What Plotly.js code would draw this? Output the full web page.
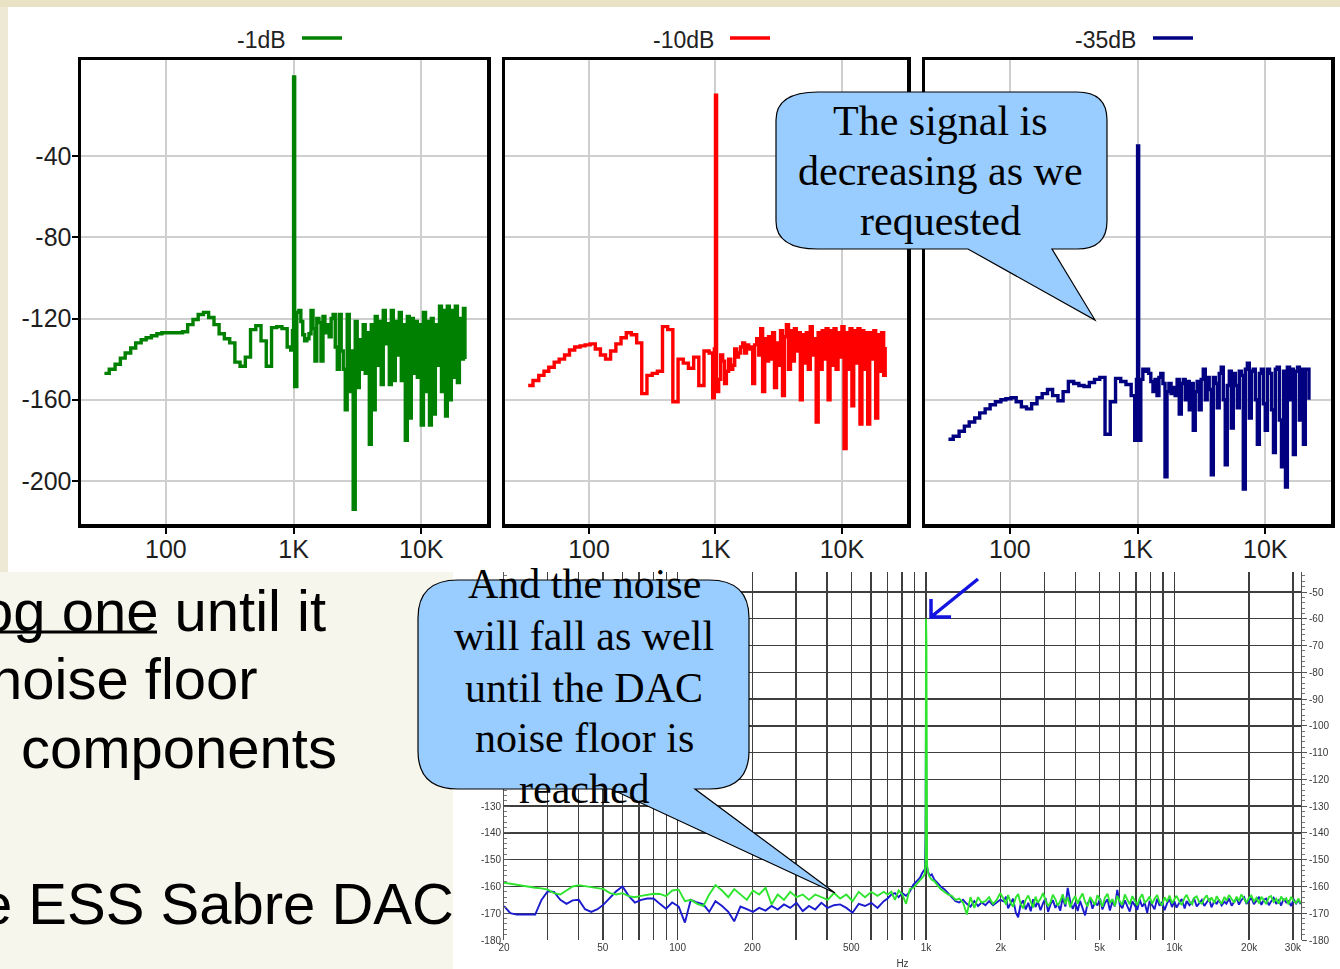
<!DOCTYPE html>
<html>
<head>
<meta charset="utf-8">
<script src="https://cdn.plot.ly/plotly-3.0.1.min.js"></script>
<style>
  html, body { margin: 0; padding: 0; background: #F7F6EC; }
  #stage { position: relative; width: 1340px; height: 969px; overflow: hidden; }
  #dac, #fft { position: absolute; left: 0; top: 0; width: 1340px; height: 969px; }
  #dac { filter: blur(0.5px); }
</style>
</head>
<body>
<div id="stage"><div id="dac"></div><div id="fft"></div></div>
<script>
// ---------- FFT panels: output level -1 dB, -10 dB, -35 dB ----------
const PANEL_NAMES = ['-1dB', '-10dB', '-35dB'];
const PANEL_COLORS = ['#008000', '#FF0000', '#000080'];

const FREQ_TOP = [
  33, 36, 40, 44, 48, 53, 58, 64, 70, 77,
  85, 93, 102, 112, 123, 135, 148, 163, 179, 197,
  216, 238, 261, 287, 316, 347, 381, 419, 460, 506,
  556, 611, 672, 738, 811, 891, 950, 980, 1000,
  1020, 1060, 1100, 1140, 1180, 1220, 1270, 1320, 1370, 1420,
  1470, 1520, 1580, 1640, 1700, 1760, 1830, 1900, 1970, 2040,
  2120, 2200, 2280, 2360, 2450, 2540, 2630, 2730, 2830, 2930,
  3040, 3150, 3270, 3390, 3510, 3640, 3780, 3920, 4060, 4210,
  4360, 4520, 4690, 4860, 5040, 5230, 5420, 5620, 5830, 6040,
  6260, 6490, 6730, 6980, 7240, 7500, 7780, 8060, 8360, 8670,
  8990, 9320, 9660, 10000, 10400, 10800, 11200, 11600, 12000, 12400,
  12900, 13400, 13900, 14400, 14900, 15500, 16000, 16600, 17200, 17900,
  18500, 19200, 19900, 20600, 21400, 22000
];

const LEVEL_1DB = [
  -147, -145, -142.5, -139.5, -137, -134.5, -132, -130.5, -129.5, -128.5,
  -127.5, -127, -127, -127, -127, -126.5, -123, -120.5, -118, -117,
  -119.5, -123, -127.5, -130, -132, -141.5, -143.5, -139, -125.5, -123.5,
  -131, -143.5, -124.5, -124, -125, -134, -135.5, -126, -1,
  -153.5, -117, -116, -121.5, -128, -131, -130, -127.5, -116, -125,
  -141, -120, -122, -141, -119, -127, -123, -129, -120, -118,
  -134, -145, -118, -136, -145, -165, -118, -156, -136, -214,
  -121.5, -154, -130.5, -145, -123, -147, -127, -182, -123, -165,
  -119, -143, -121.5, -152.5, -116, -132.5, -122.5, -152.5, -116, -150.5,
  -121.5, -138, -117, -150.5, -123, -180, -119, -169, -120, -147,
  -121.5, -149, -123, -172.5, -117, -156, -121.5, -172.5, -120, -167,
  -123, -143, -114, -156, -116, -168, -114, -160, -116, -149,
  -114, -151.5, -120, -140, -115, -140
];

const LEVEL_10DB = [
  -153, -150.5, -148, -146, -144, -141.5, -140, -138, -135.5, -134,
  -133.5, -133, -132.5, -135, -138, -140, -136, -132.5, -129.5, -127,
  -128, -132, -157, -148, -147, -146, -124, -125.5, -161, -140,
  -142, -144.5, -139, -153, -136, -137, -159, -135, -10,
  -156, -150, -138, -141, -152, -146, -140, -145, -143, -135,
  -139, -137, -134, -132, -137, -133, -135, -134, -152, -133,
  -130, -138, -125, -156, -130, -141, -129, -140, -127, -154,
  -132, -143, -126, -158, -129, -123, -145, -126, -141, -125,
  -136, -127, -160, -128, -142, -127, -145, -124, -138, -130,
  -171, -127, -145, -126, -140, -125, -160, -126, -143, -125,
  -145, -127, -139, -124, -184, -127, -145, -125, -163, -126,
  -142, -125, -172, -126, -145, -127, -172, -127, -140, -126,
  -169, -128, -146, -127, -148, -134
];

const LEVEL_35DB = [
  -179.5, -178, -175.5, -173, -171, -169, -166.5, -164.5, -162.5, -161,
  -160, -159.5, -159, -161, -163.5, -164.5, -162, -159, -157, -155,
  -158, -160.5, -156, -151, -152, -153, -153.5, -151.5, -150, -149,
  -177, -161, -149.5, -151, -152.5, -158, -180, -150, -35,
  -180, -150, -145, -146, -145, -147, -151, -156, -150, -158,
  -149, -147, -152, -198, -156, -152, -157, -154, -158, -150,
  -167, -152, -150, -160, -151, -165, -152, -175, -156, -151,
  -165, -150, -145, -160, -149, -155, -197, -149, -152, -164,
  -147, -144, -160, -192, -153, -146, -174, -147, -153, -164,
  -146, -148, -204, -145, -142, -169, -146, -145, -160, -182,
  -147, -145, -162, -175, -145, -147, -165, -186, -145, -144,
  -170, -193, -146, -203, -144, -160, -145, -187, -146, -144,
  -170, -145, -182, -145, -145, -160
];

const TOP_TICK_HZ = [100, 1000, 10000];
const TOP_TICK_HZ_TEXT = ['100', '1K', '10K'];
const TOP_TICK_DB = [-200, -160, -120, -80, -40];
const TOP_TICK_DB_TEXT = ['-200', '-160', '-120', '-80', '-40'];

// ---------- DAC noise floor spectrum (20 Hz .. 32 kHz) ----------
const FREQ_DAC = [
  20, 21.2, 22.5, 23.8, 25.2, 26.7, 28.3, 30, 31.8, 33.7,
  35.7, 37.8, 40, 42.4, 44.9, 47.6, 50.4, 53.4, 56.6, 60,
  63.5, 67.3, 71.3, 75.5, 80, 84.8, 89.8, 95.1, 101, 107,
  113, 120, 127, 134, 142, 151, 160, 169, 179, 190,
  201, 213, 226, 239, 253, 268, 284, 301, 319, 338,
  358, 379, 402, 426, 451, 478, 506, 536, 568, 602,
  638, 676, 700, 725, 750, 776, 803, 831, 860, 890,
  920, 945, 965, 980, 990, 996, 1000, 1004, 1010, 1020,
  1035, 1055, 1080, 1110, 1145, 1185, 1225, 1270, 1315, 1360,
  1410, 1460, 1510, 1565, 1620, 1675, 1735, 1795, 1860, 1925,
  1990,
  2050, 2100, 2140, 2190, 2240, 2300, 2350, 2400, 2460, 2520,
  2580, 2640, 2700, 2760, 2820, 2890, 2960, 3030, 3100, 3170,
  3240, 3320, 3390, 3470, 3550, 3640, 3720, 3810, 3900, 3990,
  4080, 4170, 4270, 4370, 4470, 4580, 4680, 4790, 4900, 5020,
  5130, 5250, 5380, 5500, 5630, 5760, 5890, 6030, 6170, 6320,
  6460, 6610, 6770, 6920, 7090, 7250, 7420, 7590, 7770, 7950,
  8130, 8320, 8520, 8720, 8920, 9130, 9340, 9560, 9780, 10000,
  10200, 10500, 10700, 11000, 11200, 11500, 11800, 12000, 12300, 12600,
  12900, 13200, 13500, 13800, 14100, 14500, 14800, 15100, 15500, 15900,
  16200, 16600, 17000, 17400, 17800, 18200, 18600, 19100, 19500, 20000,
  20400, 20900, 21400, 21900, 22400, 22900, 23400, 24000, 24500, 25100,
  25700, 26300, 26900, 27500, 28200, 28800, 29500, 30200, 30900, 31600,
  32200
];

const DAC_GREEN = [
  -158.6, -159, -159.3, -159.8, -160.3, -160.5, -160.7, -161.2, -162.5, -163,
  -161.5, -160, -159.5, -159.8, -160.2, -160.6, -161, -162.5, -163, -162.5,
  -163.6, -164, -163.5, -163, -162.7, -162.8, -163.6, -161.5, -161.2, -165.5,
  -165, -166.5, -167.3, -163, -159.5, -161.5, -164, -161, -163, -165,
  -161.5, -163, -160.5, -166.7, -163, -165, -162, -164, -163, -165,
  -163, -164, -165, -162.5, -164.5, -163, -165.5, -162, -164, -162,
  -163.5, -162, -163, -162, -165, -161.5, -163, -166.5, -161, -160.5,
  -159, -158, -157, -156, -155, -150, -60, -68, -152, -155,
  -156.5, -157.5, -158, -159.5, -161, -162, -163, -163.5, -165, -164.5,
  -166, -170.5, -164, -168, -164, -166, -165.5, -164, -166.5, -165,
  -162.5,
  -164.5, -166.8, -163.2, -165.9, -167.6, -164.1, -162.8, -166.3, -168.2, -164.9,
  -163.4, -165.7, -167.9, -163.8, -166.1, -164.6, -162.5, -165.2, -167.4, -166.0,
  -163.1, -164.8, -167.2, -165.5, -162.9, -166.6, -164.0, -167.8, -165.1, -163.6,
  -166.4, -164.3, -162.6, -165.8, -167.5, -163.9, -165.4, -166.9, -163.3, -165.0,
  -167.6, -164.2, -162.7, -166.2, -164.7, -167.3, -163.5, -165.6, -166.8, -163.0,
  -164.9, -166.7, -163.6, -165.3, -167.0, -164.4, -162.9, -166.0, -165.2, -163.8,
  -166.5, -164.6, -163.2, -165.9, -167.1, -164.0, -165.7, -163.4, -166.3, -164.8,
  -163.5, -165.8, -166.9, -164.2, -163.1, -165.6, -166.6, -164.3, -163.7, -165.9,
  -166.4, -164.5, -163.3, -165.7, -164.1, -166.2, -163.6, -165.0, -166.5, -163.9,
  -165.3, -163.2, -164.9, -166.1, -163.8, -165.5, -163.0, -164.7, -166.0, -164.2,
  -163.4, -165.6, -164.3, -166.3, -163.9, -165.1, -166.6, -164.0, -163.6, -165.8,
  -164.6, -166.4, -163.8, -165.2, -164.4, -166.7, -163.9, -165.4, -166.2, -164.5,
  -166.3
];

const DAC_BLUE = [
  -167.3, -170, -170.5, -170.5, -170.5, -170.5, -165, -161.8, -162, -165,
  -166.5, -165.2, -165, -168.5, -169.5, -168.5, -166.7, -164.2, -161.8, -160,
  -163.5, -166, -165, -164.5, -164.5, -166.5, -168.3, -166, -167.5, -173.5,
  -165, -166, -166.7, -169.5, -165.5, -167.3, -169.5, -173, -167.5, -168.5,
  -169.5, -168, -169, -167.3, -168.6, -166.7, -168, -166.1, -169.2, -167.3,
  -168.6, -166.1, -168, -167, -166.7, -168, -169.8, -166.5, -167.3, -166.1,
  -168, -165.5, -164.5, -163, -162.5, -164, -162.5, -163.5, -162, -159.3,
  -158, -156.8, -155, -154, -153.5, -140, -94, -140, -153, -154.5,
  -156, -155.5, -157.5, -158.6, -160, -161, -162.5, -164, -165.5, -166,
  -165, -166.5, -167.5, -165.5, -167.3, -166, -167, -165.5, -167, -166,
  -165,
  -165.5, -163.8, -168.2, -166.4, -164.6, -169.8, -171.5, -167.0, -165.2, -168.6,
  -166.1, -169.3, -164.8, -167.7, -165.6, -168.9, -166.2, -164.4, -169.5, -166.8,
  -165.1, -168.0, -166.3, -169.1, -164.2, -167.5, -160.5, -165.8, -168.4, -166.0,
  -169.2, -165.4, -167.9, -170.8, -166.5, -164.7, -168.3, -165.9, -167.1, -164.5,
  -168.6, -166.2, -164.8, -169.0, -165.6, -167.4, -161.3, -166.9, -168.1, -165.2,
  -167.3, -169.4, -165.5, -166.8, -168.7, -164.9, -167.6, -166.1, -169.8, -165.4,
  -166.7, -168.5, -164.6, -167.2, -165.8, -168.9, -166.3, -164.8, -167.7, -165.5,
  -167.9, -166.0, -164.7, -168.2, -165.4, -167.0, -165.9, -164.4, -167.5, -166.2,
  -165.0, -167.3, -166.1, -164.6, -167.8, -165.3, -166.6, -164.9, -167.1, -165.7,
  -166.4, -164.5, -167.2, -165.6, -164.3, -166.8, -165.1, -164.0, -166.5, -165.3,
  -164.2, -166.6, -165.4, -163.9, -166.9, -165.0, -164.5, -167.0, -165.6, -164.3,
  -166.5, -165.2, -167.1, -164.6, -166.0, -165.5, -167.3, -164.8, -166.4, -165.1,
  -166.6
];

const DAC_GRID_HZ = [20, 30, 40, 50, 60, 70, 80, 90, 100, 200, 300, 400, 500, 600, 700, 800, 900,
  1000, 2000, 3000, 4000, 5000, 6000, 7000, 8000, 9000, 10000, 20000, 30000];
const DAC_GRID_TEXT = ['20', '', '', '50', '', '', '', '', '100', '200', '', '', '500', '', '', '', '',
  '1k', '2k', '', '', '5k', '', '', '', '', '10k', '20k', '30k'];
const DAC_TICK_DB = [-180, -170, -160, -150, -140, -130, -120, -110, -100, -90, -80, -70, -60, -50];
const DAC_TICK_DB_TEXT = ['-180', '-170', '-160', '-150', '-140', '-130', '-120', '-110', '-100', '-90', '-80', '-70', '-60', '-50'];
// left scale: upper labels sit under the callout
const DAC_TICK_DB_LEFT_TEXT = ['-180', '-170', '-160', '-150', '-140', '-130', '', '', '', '', '', '', '', ''];

// ---------- page geometry helpers (figure is 1340 x 969 with zero margins) ----------
const W = 1340, H = 969;
const fx = x => x / W;
const fy = y => 1 - y / H;
// convert an SVG path written in page pixels to paper units
function paperPath(d) {
  const tokens = d.trim().split(/\s+/);
  const out = [];
  let isX = true;
  for (const t of tokens) {
    if (/^[A-Za-z]$/.test(t)) { out.push(t); isX = true; continue; }
    const v = parseFloat(t);
    out.push(isX ? fx(v).toFixed(5) : fy(v).toFixed(5));
    isX = !isX;
  }
  return out.join(' ');
}
function rectPx(x0, y0, x1, y1, color) {
  return { type: 'rect', xref: 'paper', yref: 'paper', layer: 'below',
    x0: fx(x0), x1: fx(x1), y0: fy(y1), y1: fy(y0),
    fillcolor: color, line: { width: 0 } };
}
function textPx(text, x, y, opts) {
  return Object.assign({ text: text, xref: 'paper', yref: 'paper', x: fx(x), y: fy(y),
    showarrow: false, xanchor: 'center', yanchor: 'middle' }, opts);
}

const SANS = 'Liberation Sans, Arial, sans-serif';
const SERIF = 'Liberation Serif, Times New Roman, serif';

// ---------- lower layer: DAC spectrum ----------
const dacFont = { family: SANS, size: 10, color: '#383838' };
const dacTraces = [
  { x: FREQ_DAC, y: DAC_BLUE, xaxis: 'x', yaxis: 'y', mode: 'lines',
    line: { color: '#1A1ACF', width: 1.9 }, hoverinfo: 'skip' },
  { x: FREQ_DAC, y: DAC_GREEN, xaxis: 'x', yaxis: 'y2', mode: 'lines',
    line: { color: '#2EE42E', width: 1.9 }, hoverinfo: 'skip' }
];
const dbRange = [-180, -42.53];
const dacLayout = {
  width: W, height: H, margin: { l: 0, r: 0, t: 0, b: 0 },
  paper_bgcolor: '#F7F6EC', plot_bgcolor: '#FFFFFF', showlegend: false,
  xaxis: {
    domain: [fx(504), fx(1301)], type: 'log', range: [Math.log10(20), 4.5097],
    tickmode: 'array', tickvals: DAC_GRID_HZ, ticktext: DAC_GRID_TEXT,
    showgrid: true, gridcolor: '#3E3E3E', gridwidth: 1.4, zeroline: false,
    showline: false, ticks: '', tickfont: dacFont, anchor: 'y',
    title: { text: 'Hz', font: dacFont, standoff: 9 }
  },
  yaxis: {
    domain: [fy(940), fy(572)], range: dbRange,
    tickmode: 'array', tickvals: DAC_TICK_DB, ticktext: DAC_TICK_DB_LEFT_TEXT,
    showgrid: true, gridcolor: '#3E3E3E', gridwidth: 1.4, zeroline: false,
    showline: true, linecolor: '#555', linewidth: 1,
    ticks: 'inside', ticklen: 6, tickcolor: '#555', tickfont: dacFont,
    minor: { dtick: 2, tick0: -180, ticks: 'inside', ticklen: 3, tickcolor: '#777', showgrid: false }
  },
  yaxis2: {
    overlaying: 'y', side: 'right', range: dbRange, anchor: 'x',
    tickmode: 'array', tickvals: DAC_TICK_DB, ticktext: DAC_TICK_DB_TEXT,
    showgrid: false, zeroline: false, showline: true, linecolor: '#555', linewidth: 1,
    ticks: 'outside', ticklen: 5, tickcolor: '#555', tickfont: dacFont,
    minor: { dtick: 2, tick0: -180, ticks: 'outside', ticklen: 3, tickcolor: '#777', showgrid: false }
  },
  shapes: [
    rectPx(453, 572, 1340, 969, '#FFFFFF'),
    { type: 'path', xref: 'paper', yref: 'paper', layer: 'above',
      path: paperPath('M 978 579 L 931 617 M 931 599 L 931 617 L 951 617'),
      line: { color: '#1414E0', width: 3.5 } }
  ]
};

// ---------- upper layer: three FFT panels, callouts and slide text ----------
const panelX = [[81, 487], [505, 907], [925, 1331]];
const topY = [fy(524), fy(60)];
const topTraces = [];
const topLayout = {
  width: W, height: H, margin: { l: 0, r: 0, t: 0, b: 0 },
  paper_bgcolor: 'rgba(0,0,0,0)', plot_bgcolor: '#FFFFFF', showlegend: false,
  shapes: [
    rectPx(0, 0, 1340, 7, '#E9E2C5'),
    rectPx(0, 7, 8, 572, '#EEE9D4'),
    rectPx(8, 7, 1340, 572, '#FFFFFF')
  ],
  annotations: []
};
const tickFont = { family: SANS, size: 25, color: '#1E1E1E' };
const legendLineX = [[302, 342], [730, 770], [1153, 1193]];
const titleX = [261, 683, 1105];

[LEVEL_1DB, LEVEL_10DB, LEVEL_35DB].forEach((levels, i) => {
  const n = i === 0 ? '' : String(i + 1);
  topTraces.push({ x: FREQ_TOP, y: levels, xaxis: 'x' + n, yaxis: 'y' + n, mode: 'lines',
    line: { color: PANEL_COLORS[i], width: 3.4, shape: 'hv' }, hoverinfo: 'skip' });
  topLayout['xaxis' + n] = {
    domain: [fx(panelX[i][0]), fx(panelX[i][1])], anchor: 'y' + n,
    type: 'log', range: [1.335, 4.515],
    tickmode: 'array', tickvals: TOP_TICK_HZ, ticktext: TOP_TICK_HZ_TEXT,
    showgrid: true, gridcolor: '#CFCFCF', gridwidth: 2, zeroline: false,
    showline: true, mirror: true, linecolor: '#000', linewidth: 3.5,
    ticks: 'outside', ticklen: 6, tickwidth: 2, tickcolor: '#000', tickfont: tickFont,
    ticklabelstandoff: -6
  };
  topLayout['yaxis' + n] = {
    domain: topY, anchor: 'x' + n, range: [-221.2, 7.3],
    tickmode: 'array', tickvals: TOP_TICK_DB, ticktext: TOP_TICK_DB_TEXT,
    showticklabels: i === 0, ticks: i === 0 ? 'outside' : '', ticklen: 6, tickwidth: 2, tickcolor: '#000',
    showgrid: true, gridcolor: '#CFCFCF', gridwidth: 2, zeroline: false,
    showline: true, mirror: true, linecolor: '#000', linewidth: 3.5, tickfont: tickFont,
    ticklabelstandoff: -5
  };
  topLayout.annotations.push(textPx(PANEL_NAMES[i], titleX[i], 40,
    { font: { family: SANS, size: 23, color: '#222' } }));
  topLayout.shapes.push({ type: 'line', xref: 'paper', yref: 'paper', layer: 'above',
    x0: fx(legendLineX[i][0]), x1: fx(legendLineX[i][1]), y0: fy(38), y1: fy(38),
    line: { color: PANEL_COLORS[i], width: 3.5 } });
});

// speech bubbles
const bubbleStyle = { fillcolor: '#99CCFF', line: { color: '#000', width: 1.2 } };
topLayout.shapes.push(Object.assign({ type: 'path', xref: 'paper', yref: 'paper', layer: 'above',
  path: paperPath('M 818 92 L 1077 92 Q 1107 92 1107 120 L 1107 221 Q 1107 249 1077 249 L 1052 249 L 1095 320 L 968 249 L 818 249 Q 776 249 776 221 L 776 120 Q 776 92 818 92 Z')
}, bubbleStyle));
topLayout.shapes.push(Object.assign({ type: 'path', xref: 'paper', yref: 'paper', layer: 'above',
  path: paperPath('M 458 580 L 709 580 Q 749 580 749 618 L 749 751 Q 749 789 709 789 L 695 789 L 835 893 L 611 789 L 458 789 Q 418 789 418 751 L 418 618 Q 418 580 458 580 Z')
}, bubbleStyle));

const bubbleFont = { family: SERIF, size: 42, color: '#000' };
[['The signal is', 121], ['decreasing as we', 171], ['requested', 221]].forEach(([t, y]) => {
  topLayout.annotations.push(textPx(t, 941, y, { font: bubbleFont }));
});
[['And the noise', 584], ['will fall as well', 636], ['until the DAC', 688],
 ['noise floor is', 738], ['reached', 789]].forEach(([t, y]) => {
  topLayout.annotations.push(textPx(t, 584, y, { font: bubbleFont }));
});

// slide body text
const slideFont = { family: SANS, size: 58, color: '#000' };
topLayout.annotations.push(textPx('og one until it', 328, 610, { xanchor: 'right', font: slideFont }));
topLayout.annotations.push(textPx('noise floor', 260, 678, { xanchor: 'right', font: slideFont }));
topLayout.annotations.push(textPx('components', 19, 747, { xanchor: 'left', font: slideFont }));
topLayout.annotations.push(textPx('e ESS Sabre DAC', 456, 903, { xanchor: 'right', font: slideFont }));
topLayout.shapes.push({ type: 'line', xref: 'paper', yref: 'paper', layer: 'above',
  x0: fx(0), x1: fx(157), y0: fy(632), y1: fy(632), line: { color: '#000', width: 3 } });

const cfg = { staticPlot: true, displayModeBar: false };
Plotly.newPlot('dac', dacTraces, dacLayout, cfg);
Plotly.newPlot('fft', topTraces, topLayout, cfg);
</script>
</body>
</html>
